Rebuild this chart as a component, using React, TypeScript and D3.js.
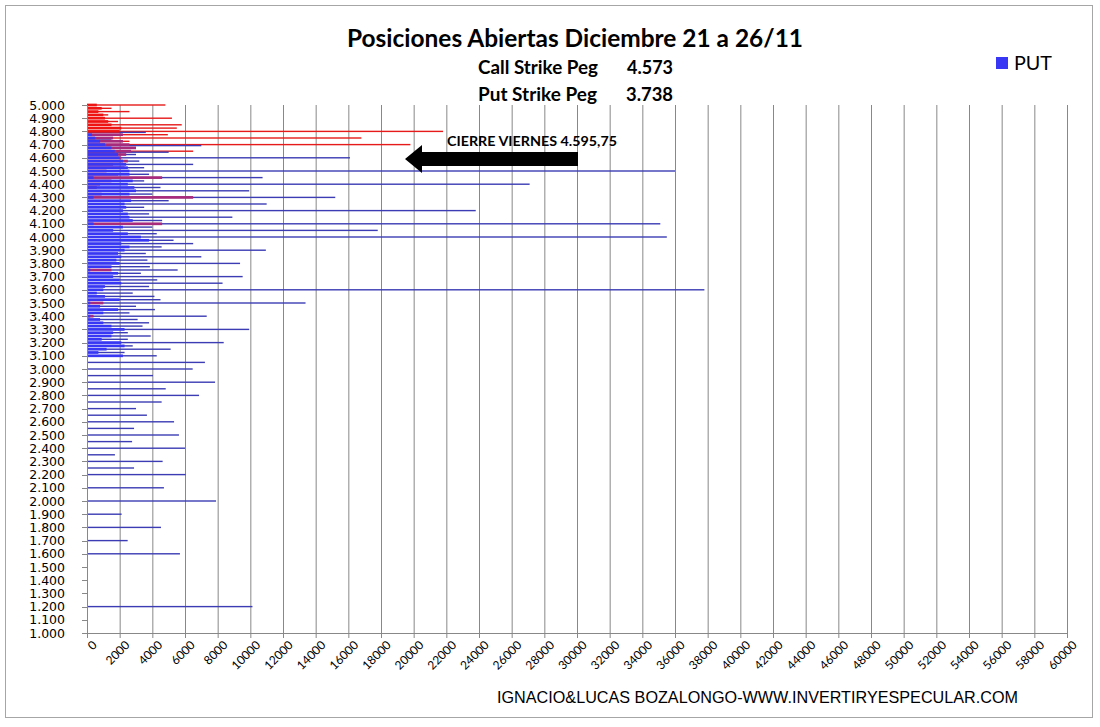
import React from "react";
import * as d3 from "d3";

// ---- Data ----
const strikes = [
  5000, 4975, 4950, 4925, 4900, 4875, 4850, 4825, 4800, 4775, 4750, 4725, 4700, 4675, 4650, 4625,
  4600, 4575, 4550, 4525, 4500, 4475, 4450, 4425, 4400, 4375, 4350, 4325, 4300, 4275, 4250, 4225,
  4200, 4175, 4150, 4125, 4100, 4075, 4050, 4025, 4000, 3975, 3950, 3925, 3900, 3875, 3850, 3825,
  3800, 3775, 3750, 3725, 3700, 3675, 3650, 3625, 3600, 3575, 3550, 3525, 3500, 3475, 3450, 3425,
  3400, 3375, 3350, 3325, 3300, 3275, 3250, 3225, 3200, 3175, 3150, 3125, 3100,
  3050, 3000, 2950, 2900, 2850, 2800, 2750, 2700, 2650, 2600, 2550, 2500, 2450, 2400, 2350, 2300,
  2250, 2200, 2100, 2000, 1900, 1800, 1700, 1600, 1200,
];

// PUT open interest (thin dark-blue lines)
const putLine = [
  0, 0, 0, 0, 0, 0, 0, 0, 3600, 0, 1500, 0, 7000, 2500, 5000, 3000,
  16100, 3200, 6500, 3500, 36000, 3800, 10750, 3500, 27100, 4500, 9930, 4000, 15200, 5000, 11000, 3500,
  23800, 3800, 8900, 4600, 35100, 4000, 17800, 4270, 35500, 5300, 6500, 4570, 10950, 3600, 7000, 3700,
  9370, 3850, 5550, 3300, 9530, 4300, 8300, 3800, 37800, 2800, 4130, 4500, 13380, 3000, 4160, 2600,
  7330, 3100, 3800, 3400, 9930, 2500, 3900, 2500, 8370, 2800, 5120, 2300, 4270,
  7220, 6470, 4040, 7840, 4820, 6860, 4570, 3000, 3670, 5330, 2880, 5630, 2760, 6000, 1710, 4630,
  2880, 6040, 4710, 7900, 2120, 4530, 2490, 5690, 10130,
];

// CALL open interest (thin red lines)
const callLine = [
  4800, 1500, 2600, 1300, 5200, 1900, 5800, 5500, 21800, 4950, 16800, 2600, 19800, 0, 6500, 0,
  0, 0, 0, 0, 0, 0, 0, 0, 0, 0, 0, 0, 0, 0, 0, 0,
  0, 0, 0, 0, 0, 0, 0, 0, 0, 0, 0, 0, 0, 0, 0, 0,
  0, 0, 0, 0, 0, 0, 0, 0, 0, 0, 0, 0, 0, 0, 0, 0,
  0, 0, 0, 0, 0, 0, 0, 0, 0, 0, 0, 0, 0,
  0, 0, 0, 0, 0, 0, 0, 0, 0, 0, 0, 0, 0, 0, 0, 0,
  0, 0, 0, 0, 0, 0, 0, 0, 0,
];

// PUT near series (thick blue bars)
const putBar = [
  0, 0, 0, 0, 0, 0, 0, 0, 0, 300, 500, 800, 1100, 1500, 1700, 1900,
  2000, 2200, 2400, 2500, 2600, 2600, 400, 2800, 2500, 2900, 3000, 2600, 400, 2700, 2300, 2400,
  2200, 2500, 2600, 2800, 400, 2200, 1600, 2500, 3300, 3800, 2100, 2600, 2300, 1900, 2100, 1800,
  2000, 1500, 200, 1900, 1600, 2000, 2100, 1100, 1000, 600, 1100, 2000, 200, 800, 1900, 1000,
  200, 800, 1000, 1500, 2300, 1600, 1500, 900, 2100, 2300, 1200, 700, 2200,
  0, 0, 0, 0, 0, 0, 0, 0, 0, 0, 0, 0, 0, 0, 0, 0,
  0, 0, 0, 0, 0, 0, 0, 0, 0,
];

// CALL near series (thick red bars)
const callBar = [
  600, 900, 700, 1000, 1100, 1300, 1500, 2100, 2000, 2200, 1600, 2200, 2600, 3000, 2700, 2400,
  2100, 2500, 1600, 2300, 1200, 1900, 4600, 1500, 800, 600, 0, 900, 6500, 0, 0, 0,
  0, 0, 0, 0, 4600, 0, 0, 0, 0, 0, 0, 0, 0, 0, 0, 0,
  0, 0, 1500, 0, 0, 0, 0, 0, 0, 0, 0, 0, 1000, 0, 0, 0,
  400, 0, 0, 0, 0, 0, 0, 0, 0, 0, 0, 0, 0,
  0, 0, 0, 0, 0, 0, 0, 0, 0, 0, 0, 0, 0, 0, 0, 0,
  0, 0, 0, 0, 0, 0, 0, 0, 0,
];

const yTickValues = [5000, 4900, 4800, 4700, 4600, 4500, 4400, 4300, 4200, 4100, 4000, 3900, 3800, 3700, 3600, 3500, 3400, 3300, 3200, 3100, 3000, 2900, 2800, 2700, 2600, 2500, 2400, 2300, 2200, 2100, 2000, 1900, 1800, 1700, 1600, 1500, 1400, 1300, 1200, 1100, 1000];
const xTickValues = [0, 2000, 4000, 6000, 8000, 10000, 12000, 14000, 16000, 18000, 20000, 22000, 24000, 26000, 28000, 30000, 32000, 34000, 36000, 38000, 40000, 42000, 44000, 46000, 48000, 50000, 52000, 54000, 56000, 58000, 60000];

const titleText = "Posiciones Abiertas Diciembre 21 a 26/11";
const callPegLabel = "Call Strike Peg";
const callPegValue = "4.573";
const putPegLabel = "Put Strike Peg";
const putPegValue = "3.738";
const annotation = "CIERRE VIERNES 4.595,75";
const footer = "IGNACIO&LUCAS BOZALONGO-WWW.INVERTIRYESPECULAR.COM";

const W = 1100;
const H = 727;
const left = 87;
const right = 1067;
const top = 105;
const bottom = 633;

const x = d3.scaleLinear().domain([0, 60000]).range([left, right]);
const y = d3.scaleLinear().domain([1000, 5000]).range([bottom, top]);

const esLocale = d3.formatLocale({ decimal: ",", thousands: ".", grouping: [3], currency: ["", "€"] });
const fmtY = (v: number) => esLocale.format(",")(v);

const PUT_LINE = "#3c3cb4";
const CALL_LINE = "#e61a1a";
const PUT_BAR = "#3838f4";
const CALL_BAR = "#ee1414";
const CALL_BAR_MIX = "#a82a7c";
const GRID = "#888888";

export default function App() {
  const thin = 1.4;
  const thick = 2.7;
  return (
    <svg
      width={W}
      height={H}
      style={{ position: "absolute", left: 0, top: 0, background: "#fff" }}
      xmlns="http://www.w3.org/2000/svg"
    >
      <rect x={0} y={0} width={W} height={H} fill="#fff" />
      <rect x={5.5} y={5.5} width={1087} height={712} fill="none" stroke="#a6a6a6" strokeWidth={1} />

      {/* gridlines */}
      {xTickValues.slice(1).map((t) => (
        <line key={"g" + t} x1={x(t) + 0.5} x2={x(t) + 0.5} y1={top} y2={bottom} stroke={GRID} strokeWidth={1} />
      ))}

      {/* thin lines: calls then puts */}
      {strikes.map((s, i) =>
        callLine[i] > 0 ? (
          <rect key={"cl" + s} x={x(0)} y={y(s) - thin / 2} width={x(callLine[i]) - x(0)} height={thin} fill={CALL_LINE} />
        ) : null
      )}
      {strikes.map((s, i) =>
        putLine[i] > 0 ? (
          <rect key={"pl" + s} x={x(0)} y={y(s) - thin / 2 + (callLine[i] > 0 ? 1 : 0)} width={x(putLine[i]) - x(0)} height={thin} fill={PUT_LINE} />
        ) : null
      )}

      {/* thick bars */}
      {strikes.map((s, i) =>
        callBar[i] > 0 ? (
          <rect
            key={"cb" + s}
            x={x(0)}
            y={y(s) - thick / 2}
            width={x(callBar[i]) - x(0)}
            height={thick}
            fill={putBar[i] > 0 ? CALL_BAR_MIX : CALL_BAR}
          />
        ) : null
      )}
      {strikes.map((s, i) =>
        putBar[i] > 0 ? (
          <rect key={"pb" + s} x={x(0)} y={y(s) - thick / 2} width={x(putBar[i]) - x(0)} height={thick} fill={PUT_BAR} />
        ) : null
      )}

      {/* axes */}
      <line x1={left + 0.5} x2={left + 0.5} y1={top} y2={bottom} stroke={GRID} />
      <line x1={left} x2={right + 1} y1={bottom + 0.5} y2={bottom + 0.5} stroke={GRID} />
      {yTickValues.map((t) => (
        <g key={"yt" + t}>
          <line x1={left - 5} x2={left} y1={Math.round(y(t)) + 0.5} y2={Math.round(y(t)) + 0.5} stroke={GRID} />
          <text
            x={65}
            y={y(t) + 4.5}
            textAnchor="end"
            fontFamily="'DejaVu Sans', Verdana, sans-serif"
            fontSize={12.5}
            fill="#000"
          >
            {fmtY(t)}
          </text>
        </g>
      ))}
      {xTickValues.map((t) => (
        <g key={"xt" + t}>
          <line x1={x(t) + 0.5} x2={x(t) + 0.5} y1={bottom} y2={bottom + 5} stroke={GRID} />
          <text
            transform={`translate(${x(t) + 4},${bottom + 6}) rotate(-45)`}
            textAnchor="end"
            dominantBaseline="hanging"
            fontFamily="Lato, 'Open Sans', sans-serif"
            fontSize={12}
            fill="#000"
          >
            {String(t)}
          </text>
        </g>
      ))}

      {/* title */}
      <text x={575} y={47} textAnchor="middle" fontFamily="Lato, sans-serif" fontWeight="bold" fontSize={24} textLength={456} lengthAdjust="spacingAndGlyphs" fill="#000">
        {titleText}
      </text>
      <text x={478} y={74} fontFamily="Lato, sans-serif" fontWeight="bold" fontSize={18} textLength={120} lengthAdjust="spacingAndGlyphs" fill="#000">
        {callPegLabel}
      </text>
      <text x={627} y={74} fontFamily="Lato, sans-serif" fontWeight="bold" fontSize={18} textLength={46} lengthAdjust="spacingAndGlyphs" fill="#000">
        {callPegValue}
      </text>
      <text x={478} y={101} fontFamily="Lato, sans-serif" fontWeight="bold" fontSize={18} textLength={119} lengthAdjust="spacingAndGlyphs" fill="#000">
        {putPegLabel}
      </text>
      <text x={626} y={101} fontFamily="Lato, sans-serif" fontWeight="bold" fontSize={18} textLength={47} lengthAdjust="spacingAndGlyphs" fill="#000">
        {putPegValue}
      </text>

      {/* legend */}
      <rect x={996} y={57} width={12} height={12} fill={PUT_BAR} />
      <text x={1014} y={70} fontFamily="Lato, sans-serif" fontSize={20} textLength={38} lengthAdjust="spacingAndGlyphs" fill="#000">
        PUT
      </text>

      {/* annotation */}
      <text x={447} y={146} fontFamily="Lato, sans-serif" fontWeight="bold" fontSize={12.5} textLength={170} lengthAdjust="spacingAndGlyphs" fill="#000">
        {annotation}
      </text>
      <path d="M405,159 L422,145 L422,152 L578,152 L578,166 L422,166 L422,173 Z" fill="#000" />

      {/* footer */}
      <text x={497} y={703} fontFamily="'Liberation Sans', Arial, sans-serif" fontSize={16.5} textLength={521} lengthAdjust="spacingAndGlyphs" fill="#000">
        {footer}
      </text>
    </svg>
  );
}
